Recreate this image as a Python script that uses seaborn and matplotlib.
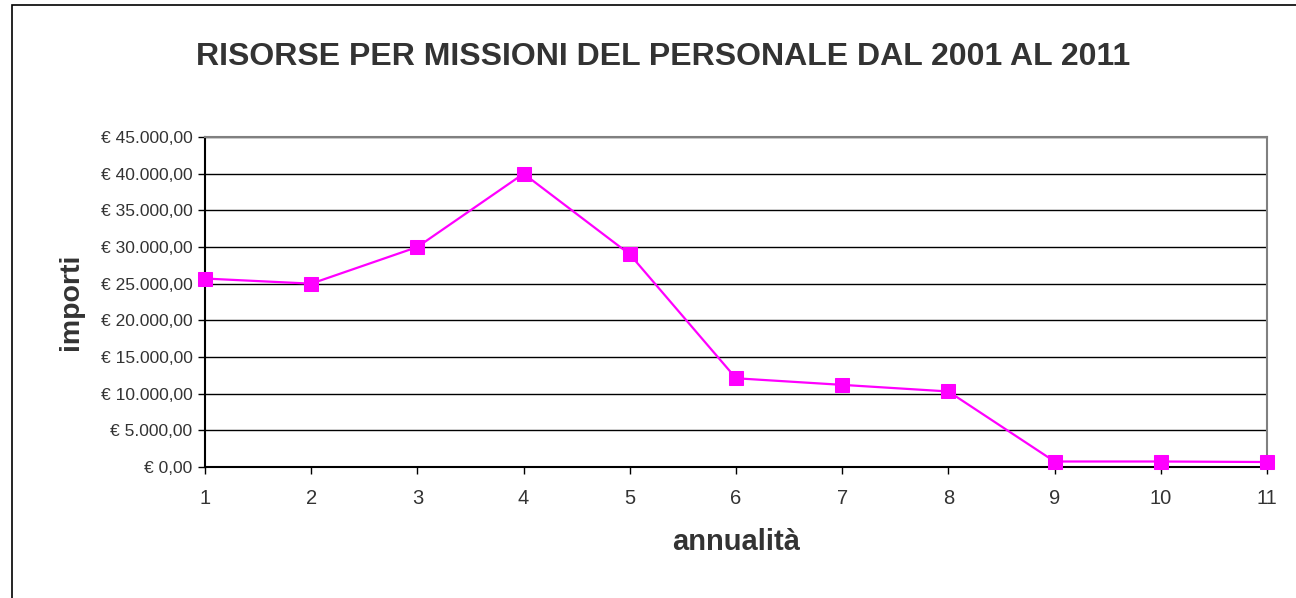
import matplotlib
matplotlib.use("Agg")
import matplotlib.pyplot as plt
from matplotlib.ticker import FuncFormatter, MultipleLocator
from matplotlib.patches import Rectangle
from matplotlib import font_manager
import pandas as pd
import seaborn as sns

# dati
annualita = [1, 2, 3, 4, 5, 6, 7, 8, 9, 10, 11]
importi = [25700, 25000, 30000, 40000, 29000, 12100, 11200, 10300, 750, 750, 680]

df = pd.DataFrame({"annualita": annualita, "importi": importi})

sns.set_style("white")
plt.rcParams["font.family"] = ["Liberation Sans", "DejaVu Sans"]

nomi = {f.name for f in font_manager.fontManager.ttflist}
narrow = "Liberation Sans Narrow" if "Liberation Sans Narrow" in nomi else "Liberation Sans"


def euro(v, pos):
    s = f"{v:,.2f}".replace(",", "X").replace(".", ",").replace("X", ".")
    return f"€ {s}"


fig, ax = plt.subplots(figsize=(12.96, 5.98), dpi=100)
fig.subplots_adjust(left=205 / 1296, right=1267 / 1296, top=1 - 137 / 598, bottom=1 - 467 / 598)

sns.lineplot(data=df, x="annualita", y="importi", ax=ax, color="#ff00ff",
             marker="s", markersize=10.5, markeredgecolor="#ff00ff", linewidth=1.6,
             clip_on=False, zorder=5)

ax.set_xlim(1, 11)
ax.set_ylim(0, 45000)
ax.set_xticks(annualita)
ax.yaxis.set_major_locator(MultipleLocator(5000))
ax.yaxis.set_major_formatter(FuncFormatter(euro))
ax.grid(axis="y", color="black", linewidth=1)
ax.set_axisbelow(True)

ax.tick_params(axis="both", which="major", length=5, width=1, color="black",
               labelcolor="#333333", direction="out")
ax.tick_params(axis="x", pad=11, labelsize=14.5, bottom=True)
ax.tick_params(axis="y", pad=4, left=True)
for lab in ax.get_yticklabels():
    lab.set_fontfamily([narrow, "DejaVu Sans"])
    lab.set_fontsize(14 if narrow != "Liberation Sans" else 12.5)

for side in ["left", "bottom"]:
    ax.spines[side].set_color("black")
    ax.spines[side].set_linewidth(1.5)
for side in ["top", "right"]:
    ax.spines[side].set_visible(True)
    ax.spines[side].set_color("#808080")
    ax.spines[side].set_linewidth(1.5)

ax.set_xlabel("annualità", fontsize=21, fontweight="bold", color="#333333", labelpad=14)
ax.set_ylabel("importi", fontsize=20.5, fontweight="bold", color="#333333", labelpad=12)
fig.text(663 / 1296, 1 - 57 / 598, "RISORSE PER MISSIONI DEL PERSONALE DAL 2001 AL 2011",
         ha="center", va="center", fontsize=23, fontweight="bold", color="#333333")

# cornice esterna del grafico
fig.patches.append(Rectangle((11.5 / 1296, -0.1), 1.2, 1.1 - 5.5 / 598,
                             transform=fig.transFigure, fill=False,
                             edgecolor="black", linewidth=1.2))

fig.savefig("out.png", dpi=100)
